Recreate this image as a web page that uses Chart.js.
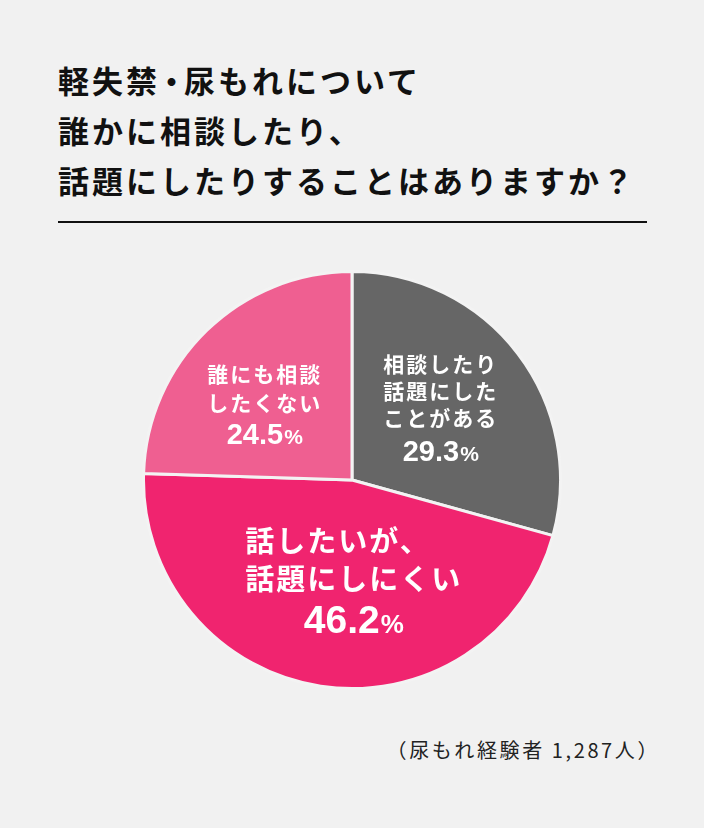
<!DOCTYPE html>
<html lang="ja">
<head>
<meta charset="utf-8">
<script src="https://cdn.jsdelivr.net/npm/chart.js@4.4.1/dist/chart.umd.min.js"></script>
<style>
  html, body { margin: 0; padding: 0; }
  body { width: 704px; height: 828px; background: #f1f1f1; position: relative; overflow: hidden;
         font-family: "Noto Sans CJK JP", "Noto Sans", sans-serif; }
  #title { position: absolute; left: 58px; top: 55px; font-size: 31px; font-weight: 700;
           line-height: 50px; letter-spacing: 3px; color: #111; white-space: nowrap; }
  #title .dot { margin: 0 -6px 0 -4px; }
  #rule { position: absolute; left: 58px; top: 221px; width: 589px; height: 2px; background: #111; }
  #wrap { position: absolute; left: 142px; top: 270px; width: 420px; height: 420px; }
  #note { position: absolute; right: 44px; top: 735px; font-size: 20px; letter-spacing: 2.6px; color: #222; white-space: nowrap; }
</style>
</head>
<body>
<div id="title"></div>
<div id="rule"></div>
<div id="wrap"><canvas id="c" width="420" height="420"></canvas></div>
<div id="note"></div>
<script>
// ---- data ----
const titleLines = ['軽失禁・尿もれについて', '誰かに相談したり、', '話題にしたりすることはありますか？'];
const categories = ['相談したり話題にしたことがある', '話したいが、話題にしにくい', '誰にも相談したくない'];
const labelLines = [['相談したり', '話題にした', 'ことがある'], ['話したいが、', '話題にしにくい'], ['誰にも相談', 'したくない']];
const values = [29.3, 46.2, 24.5];
const sampleNote = '（尿もれ経験者 1,287人）';

// ---- styles ----
const colors = ['#666666', '#f0246f', '#ef5f91'];
const labelStyle = [
  { f: 0.55, shift: -2.0, size: 21, num: 29, pct: 21, lineH: 27, gap: 33 },
  { f: 0.48, shift: -9.7, size: 29, num: 39, pct: 26, lineH: 38, gap: 40 },
  { f: 0.555, shift: -4.8, size: 21, num: 29, pct: 21, lineH: 29, gap: 30 }
];

document.getElementById('title').innerHTML = titleLines
  .map(s => '<div>' + s.replace('・', '<span class="dot">・</span>') + '</div>').join('');
document.getElementById('note').textContent = sampleNote;

const JP = '"Noto Sans CJK JP", sans-serif';
const NUM = '"Liberation Sans", Arial, sans-serif';

const sliceLabels = {
  id: 'sliceLabels',
  afterDatasetsDraw(chart) {
    const ctx = chart.ctx;
    const meta = chart.getDatasetMeta(0);
    meta.data.forEach((arc, i) => {
      const st = labelStyle[i];
      const p = arc.getProps(['x', 'y', 'startAngle', 'endAngle', 'outerRadius'], true);
      const a = (p.startAngle + p.endAngle) / 2 + st.shift * Math.PI / 180;
      const cx = p.x + Math.cos(a) * p.outerRadius * st.f;
      const cy = p.y + Math.sin(a) * p.outerRadius * st.f;
      const lines = labelLines[i];
      const span = (lines.length - 1) * st.lineH + st.gap;
      const y0 = cy - span / 2;
      ctx.save();
      ctx.fillStyle = '#ffffff';
      ctx.font = '700 ' + st.size + 'px ' + JP;
      ctx.letterSpacing = '2px';
      ctx.textBaseline = 'middle';
      ctx.textAlign = 'left';
      let maxW = 0;
      lines.forEach(l => { maxW = Math.max(maxW, ctx.measureText(l).width); });
      const left = cx - maxW / 2;
      lines.forEach((l, k) => ctx.fillText(l, left, y0 + k * st.lineH));
      // number
      ctx.letterSpacing = '0px';
      const numStr = values[i].toFixed(1);
      ctx.font = '700 ' + st.num + 'px ' + NUM;
      const w1 = ctx.measureText(numStr).width;
      ctx.font = '700 ' + st.pct + 'px ' + NUM;
      const w2 = ctx.measureText('%').width + 1;
      const nx = cx - (w1 + w2) / 2;
      const ny = y0 + (lines.length - 1) * st.lineH + st.gap + st.num * 0.36;
      ctx.textBaseline = 'alphabetic';
      ctx.font = '700 ' + st.num + 'px ' + NUM;
      ctx.fillText(numStr, nx, ny);
      ctx.font = '700 ' + st.pct + 'px ' + NUM;
      ctx.fillText('%', nx + w1 + 1, ny);
      ctx.restore();
    });
  }
};

new Chart(document.getElementById('c'), {
  type: 'pie',
  data: {
    labels: categories,
    datasets: [{
      data: values,
      backgroundColor: colors,
      borderColor: '#f3f3f3',
      borderWidth: 3
    }]
  },
  options: {
    responsive: false,
    animation: false,
    layout: { padding: 0 },
    plugins: { legend: { display: false }, tooltip: { enabled: false }, title: { display: false } }
  },
  plugins: [sliceLabels]
});
</script>
</body>
</html>
